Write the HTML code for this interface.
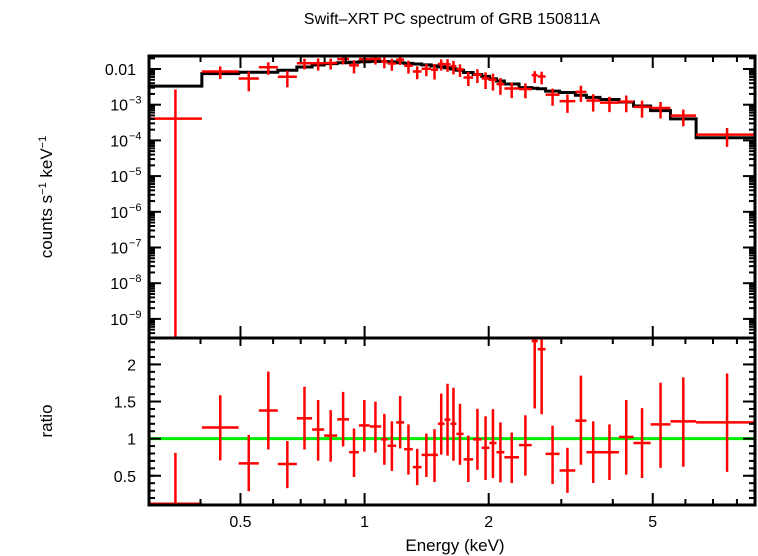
<!DOCTYPE html>
<html><head><meta charset="utf-8"><style>
body{margin:0;background:#fff;}
svg{display:block;font-family:"Liberation Sans",sans-serif;}
</style></head><body>
<svg id="chart" width="758" height="556" viewBox="0 0 758 556" xmlns="http://www.w3.org/2000/svg">
<text x="452" y="24" font-size="16" text-anchor="middle">Swift–XRT PC spectrum of GRB 150811A</text>
<text x="455" y="551" font-size="17" text-anchor="middle">Energy (keV)</text>
<text transform="translate(52,197) rotate(-90)" font-size="17" text-anchor="middle">counts s<tspan dy="-6" font-size="11">−1</tspan><tspan dy="6"> keV</tspan><tspan dy="-6" font-size="11">−1</tspan></text>
<text transform="translate(52,421) rotate(-90)" font-size="17" text-anchor="middle">ratio</text>
<g id="g"></g>
</svg>
<script>
const binEdges=[0.30,0.403,0.495,0.554,0.616,0.685,0.746,0.798,0.858,0.917,0.969,1.029,1.097,1.137,1.193,1.247,1.309,1.375,1.450,1.506,1.563,1.616,1.670,1.738,1.833,1.924,2.008,2.089,2.183,2.370,2.543,2.630,2.748,2.971,3.245,3.452,3.723,4.140,4.490,4.940,5.52,6.37,9.0];
const modelCounts=[3.3e-3,7.4e-3,8.1e-3,8.1e-3,9.2e-3,1.14e-2,1.29e-2,1.41e-2,1.5e-2,1.55e-2,1.6e-2,1.64e-2,1.62e-2,1.58e-2,1.5e-2,1.44e-2,1.38e-2,1.3e-2,1.22e-2,1.15e-2,1.08e-2,1.0e-2,9.2e-3,8.0e-3,7.0e-3,6.2e-3,5.3e-3,4.6e-3,3.8e-3,3.0e-3,2.9e-3,2.8e-3,2.4e-3,2.2e-3,1.84e-3,1.6e-3,1.4e-3,1.19e-3,9.2e-4,6.8e-4,4.0e-4,1.19e-4];
const ratioValues=[0.123,1.151,0.667,1.379,0.658,1.274,1.123,1.041,1.260,0.817,1.178,1.164,0.991,0.904,1.219,0.858,0.616,0.781,0.781,1.201,1.256,1.201,1.064,0.721,0.991,0.877,0.941,0.817,0.749,0.913,2.315,2.205,0.795,0.571,1.242,0.817,0.817,1.023,0.941,1.192,1.233,1.219];
const ratioHigh=[0.808,1.584,1.050,1.904,0.968,1.699,1.521,1.384,1.630,1.137,1.521,1.498,1.333,1.233,1.575,1.192,0.863,1.068,1.128,1.607,1.740,1.685,1.470,1.041,1.402,1.301,1.397,1.219,1.082,1.315,3.0,3.0,1.174,0.877,1.849,1.233,1.192,1.521,1.411,1.753,1.826,1.877];
const ratioLow=[0.0,0.708,0.292,0.854,0.333,0.854,0.703,0.689,0.895,0.484,0.826,0.813,0.648,0.566,0.868,0.516,0.374,0.484,0.416,0.785,0.772,0.703,0.648,0.416,0.580,0.443,0.470,0.411,0.402,0.502,1.406,1.329,0.388,0.269,0.648,0.402,0.443,0.516,0.470,0.607,0.621,0.553];
const xTickMajor=[0.5,1,2,5];
const xTickLabels=["0.5","1","2","5"];
const xTickMinor=[0.3,0.4,0.6,0.7,0.8,0.9,3,4,6,7,8];
const yTopDecades=[-2,-3,-4,-5,-6,-7,-8,-9];
const yTopLabels=["0.01","10","10","10","10","10","10","10"];
const yRatioMajor=[0.5,1,1.5,2];
const yRatioLabels=["0.5","1","1.5","2"];

const L=149,R=755,T1=56,B1=338,T2=338,B2=505;
const XMIN=0.3,XMAX=8.85;
const sx=e=>L+(Math.log10(e)-Math.log10(XMIN))/(Math.log10(XMAX)-Math.log10(XMIN))*(R-L);
const LT=-1.636,LB=-9.535;
const sy1=v=>{let lv=v>0?Math.log10(v):-20;let y=T1+(LT-lv)/(LT-LB)*(B1-T1);return Math.max(T1,Math.min(B1,y));};
const RT=2.356,RB=0.106;
const sy2=r=>{let y=T2+(RT-r)/(RT-RB)*(B2-T2);return Math.max(T2,Math.min(B2,y));};
const g=document.getElementById('g');
const NS='http://www.w3.org/2000/svg';
function mk(tag,attrs,name){const el=document.createElementNS(NS,tag);for(const k in attrs)el.setAttribute(k,attrs[k]);


g.appendChild(el);return el;}
function line(x1,y1,x2,y2,c,w,name){return mk('line',{x1,y1,x2,y2,stroke:c,'stroke-width':w},name);}

// ratio unity line
line(L,sy2(1),R,sy2(1),'#00ee00',3,'unity-line');

// model step
let d='';
for(let i=0;i<modelCounts.length;i++){const x0=sx(binEdges[i]),x1=Math.min(R,sx(binEdges[i+1])),y=sy1(modelCounts[i]);d+=(i==0?'M':'L')+x0+','+y+'L'+x1+','+y;}
mk('path',{d,fill:'none',stroke:'#000','stroke-width':3},'model-step');

// data
for(let i=0;i<ratioValues.length;i++){
 const x0=sx(binEdges[i]),x1=Math.min(R,sx(binEdges[i+1]));const xc=sx(Math.sqrt(binEdges[i]*binEdges[i+1]));
 const m=modelCounts[i];
 line(x0,sy1(m*ratioValues[i]),x1,sy1(m*ratioValues[i]),'#f00',2.5,'data-point-xerr');
 line(xc,sy1(m*ratioHigh[i]),xc,sy1(m*ratioLow[i]),'#f00',2.5,'data-point-yerr');
 line(x0,sy2(ratioValues[i]),x1,sy2(ratioValues[i]),'#f00',2.5,'ratio-point-xerr');
 line(xc,sy2(ratioHigh[i]),xc,sy2(ratioLow[i]),'#f00',2.5,'ratio-point-yerr');
}

// frames
mk('rect',{x:L,y:T1,width:R-L,height:B1-T1,fill:'none',stroke:'#000','stroke-width':3},'top-panel-frame');
mk('rect',{x:L,y:T2,width:R-L,height:B2-T2,fill:'none',stroke:'#000','stroke-width':3},'bottom-panel-frame');

// x ticks
xTickMajor.forEach((e,i)=>{const x=sx(e);
 line(x,T1,x,T1+12,'#000',2,'x-major-tick');line(x,B1-12,x,B1+8,'#000',2,'x-major-tick');line(x,B2,x,B2-12,'#000',2,'x-major-tick');
 const t=mk('text',{x,y:527,'font-size':16,'text-anchor':'middle'},'x-tick-label');t.textContent=xTickLabels[i];});
xTickMinor.forEach(e=>{const x=sx(e);
 line(x,T1,x,T1+6,'#000',2,'x-minor-tick');line(x,T2,x,T2+6,'#000',2,'x-minor-tick');line(x,B2,x,B2-6,'#000',2,'x-minor-tick');});

// top y ticks
yTopDecades.forEach((p,i)=>{const y=sy1(Math.pow(10,p));
 line(L,y,L+12,y,'#000',2,'y-major-tick');line(R,y,R-12,y,'#000',2,'y-major-tick');
 const t=mk('text',{x:i==0?136:128,y:y+6,'font-size':16,'text-anchor':'end'},'y-tick-label');t.textContent=yTopLabels[i];
 if(i>0){const s=mk('text',{x:129,y:y-1,'font-size':11,'text-anchor':'start'},'y-tick-exponent');s.textContent='−'+(-p);}
 for(let k=2;k<10;k++){const yy=sy1(k*Math.pow(10,p));if(yy>T1&&yy<B1){line(L,yy,L+6,yy,'#000',2,'y-minor-tick');line(R,yy,R-6,yy,'#000',2,'y-minor-tick');}}
});
for(let k=2;k<10;k++){const yy=sy1(k*1e-10);if(yy>T1&&yy<B1){line(L,yy,L+6,yy,'#000',2,'y-minor-tick');line(R,yy,R-6,yy,'#000',2,'y-minor-tick');}}
for(let k=2;k<3;k++){const yy=sy1(k*1e-2);if(yy>T1&&yy<B1){line(L,yy,L+6,yy,'#000',2,'y-minor-tick');}}

// ratio ticks
for(let r=0.2;r<2.36;r+=0.1){const y=sy2(r);line(L,y,L+6,y,'#000',2,'ratio-minor-tick');line(R,y,R-6,y,'#000',2,'ratio-minor-tick');}
yRatioMajor.forEach((r,i)=>{const y=sy2(r);line(L,y,L+12,y,'#000',2,'ratio-major-tick');line(R,y,R-12,y,'#000',2,'ratio-major-tick');
 const t=mk('text',{x:136,y:y+6,'font-size':16,'text-anchor':'end'},'ratio-tick-label');t.textContent=yRatioLabels[i];});
</script>
</body></html>
